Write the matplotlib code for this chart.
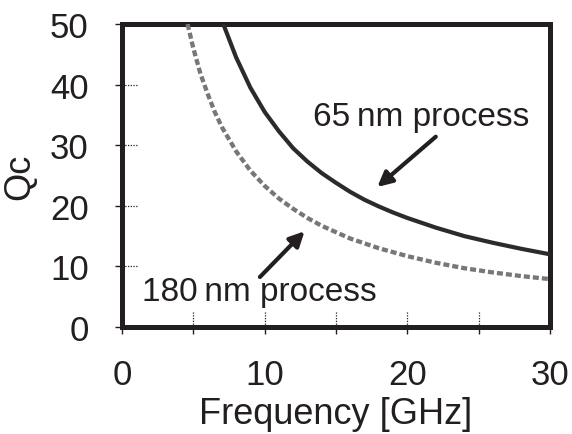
import numpy as np
import matplotlib
matplotlib.use("Agg")
import matplotlib.pyplot as plt
import matplotlib.transforms as mtransforms

plt.rcParams['font.family'] = ['Liberation Sans', 'DejaVu Sans']

# values
freq_65 = [7.1, 8, 9, 10, 11, 12, 13, 14, 15, 16, 17, 18, 19, 20, 22, 24, 26, 28, 30]
qc_65 = [50, 44.5, 39.5, 35.5, 32.3, 29.5, 27.3, 25.4, 23.8, 22.3, 21.0, 19.9, 18.9, 18.0,
         16.4, 15.0, 13.9, 12.9, 12.0]
freq_180 = [4.6, 5, 5.5, 6, 6.5, 7, 8, 9, 10, 11, 12, 13, 14, 16, 18, 20, 22, 24, 26, 28, 30]
qc_180 = [50, 46, 41.8, 38.5, 35.5, 33, 29, 25.8, 23.3, 21.2, 19.5, 18.0, 16.7, 14.6,
          13.0, 11.7, 10.6, 9.7, 9.0, 8.4, 7.9]

x_ticks = [0, 5, 10, 15, 20, 25, 30]
x_labels = ['0', '', '10', '', '20', '', '30']
y_ticks = [0, 10, 20, 30, 40, 50]

ink = '#231f20'

fig = plt.figure(figsize=(5.72, 4.35), dpi=100)
ax = fig.add_axes([0.2133, 0.246, 0.748, 0.6965])

ax.plot(freq_65, qc_65, color='#2b2b2b', lw=3.0, solid_capstyle='butt', zorder=3)
ax.plot(freq_180, qc_180, color='#77777b', lw=3.1, dashes=(1.4, 0.7),
        dash_capstyle='butt', zorder=3)

ax.set_xlim(0, 30)
ax.set_ylim(0, 50)
ax.set_xticks(x_ticks)
ax.set_xticklabels(x_labels)
ax.set_yticks(y_ticks)
ax.tick_params(direction='out', length=5, width=1, color=ink, labelsize=25,
               labelcolor=ink)
ax.tick_params(axis='x', pad=17)
ax.tick_params(axis='y', pad=19)

for s in ax.spines.values():
    s.set_linewidth(3.6)
    s.set_color(ink)

# short dotted stubs inside the frame
ty = mtransforms.blended_transform_factory(ax.transAxes, ax.transData)
tx = mtransforms.blended_transform_factory(ax.transData, ax.transAxes)
for y in y_ticks[1:-1]:
    ax.plot([0, 0.038], [y, y], transform=ty, color=ink, lw=0.9, ls=(0, (1, 1.2)), zorder=1)
for x in x_ticks[1:-1]:
    ax.plot([x, x], [0, 0.05], transform=tx, color=ink, lw=0.9, ls=(0, (1, 1.2)), zorder=1)

ax.set_xlabel('Frequency [GHz]', fontsize=26, color=ink, labelpad=4)
ax.set_ylabel('Qc', fontsize=26, color=ink, labelpad=9)

ax.text(13.4, 34.8, '65\u2009nm process', fontsize=24, color=ink, va='center', ha='left')
ax.text(1.4, 5.8, '180\u2009nm process', fontsize=24, color=ink, va='center', ha='left')

ax.annotate('', xy=(17.9, 23.1), xytext=(22.0, 31.4),
            arrowprops=dict(arrowstyle='-|>', color=ink, lw=3, mutation_scale=22,
                            shrinkA=0, shrinkB=0))
ax.annotate('', xy=(12.8, 15.8), xytext=(9.67, 8.25),
            arrowprops=dict(arrowstyle='-|>', color=ink, lw=3, mutation_scale=22,
                            shrinkA=0, shrinkB=0))

fig.savefig('out.png', dpi=100)
